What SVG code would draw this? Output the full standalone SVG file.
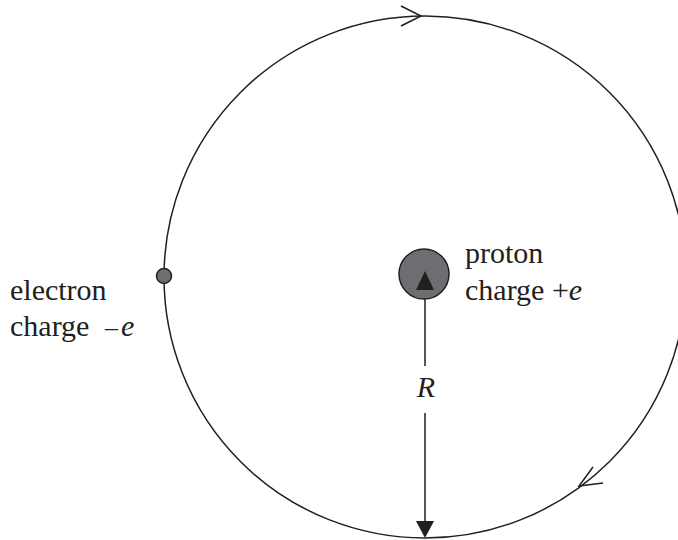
<svg xmlns="http://www.w3.org/2000/svg" width="678" height="540" viewBox="0 0 678 540">
<style>
.ln{fill:none;stroke:#231f20;stroke-width:1.5}
.hd{fill:#231f20;stroke:none}
.t{font-family:"Liberation Serif","Times New Roman",serif;font-size:30px;fill:#231f20}
.i{font-style:italic}
.dot{fill:#6d6e71;stroke:#231f20;stroke-width:1.5}
</style>
<rect width="678" height="540" fill="#fff"/>
<g id="connectors">
<circle class="ln" cx="425" cy="277" r="261"/>
<polyline class="ln" points="401,6 421,16 401,26"/>
<polyline class="ln" points="593,467 579,486 603,483"/>
<line class="ln" x1="425" y1="286" x2="425" y2="366"/>
<line class="ln" x1="425" y1="413" x2="425" y2="524"/>
</g>
<g id="proton">
<circle class="dot" cx="424" cy="274" r="25"/>
<polygon class="hd" points="425,271 416,290 434,290"/>
<text class="t" x="465" y="263">proton</text>
<text class="t" x="465" y="300">charge +<tspan class="i">e</tspan></text>
</g>
<g id="electron">
<circle class="dot" cx="164" cy="276" r="7.5"/>
<text class="t" x="10" y="300">electron</text>
<text class="t" x="10" y="336">charge <tspan x="105" font-size="26">–</tspan><tspan class="i" x="121">e</tspan></text>
</g>
<g id="radius">
<polygon class="hd" points="425,538 416,521 434,521"/>
<text class="t i" x="426" y="397" text-anchor="middle">R</text>
</g>
</svg>
